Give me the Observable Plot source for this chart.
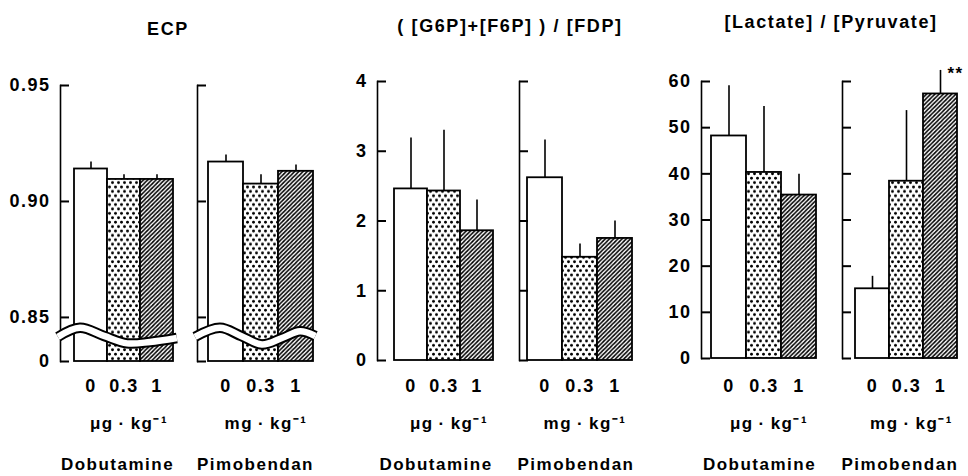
<!DOCTYPE html>
<html><head><meta charset="utf-8">
<script src="https://cdn.jsdelivr.net/npm/d3@7"></script>
<script src="https://cdn.jsdelivr.net/npm/@observablehq/plot@0.6"></script>
<style>
body{margin:0;background:#fff}
#chart{position:relative;width:968px;height:476px;overflow:hidden;font-family:"Liberation Sans",Arial,sans-serif;font-weight:bold;color:#000}
#chart svg.layer{position:absolute;left:0;top:0}
.title{position:absolute;font-size:18px;letter-spacing:1.6px;transform:translate(-50%,-50%);white-space:nowrap;line-height:1}
</style></head>
<body>
<div id="chart">
<svg width="0" height="0" style="position:absolute">
<defs>
<pattern id="dots" width="6" height="8.8" patternUnits="userSpaceOnUse"><rect width="6" height="8.8" fill="#fff"/><circle cx="1.5" cy="2.2" r="1.45" fill="#000"/><circle cx="4.5" cy="6.6" r="1.45" fill="#000"/></pattern>
<pattern id="hatch" width="4.2" height="4.2" patternUnits="userSpaceOnUse"><rect width="4.2" height="4.2" fill="#fff"/><path d="M-1,1 L1,-1 M0,4.2 L4.2,0 M3.2,5.2 L5.2,3.2" stroke="#000" stroke-width="1.6"/></pattern>
</defs></svg>
</div>
<script>
// ---------- data ----------
const doses = ["0", "0.3", "1"];
const drugs = ["Dobutamine", "Pimobendan"];
const units = ["μg\u2009·\u2009kg⁻¹", "mg\u2009·\u2009kg⁻¹"];
const titles = ["ECP", "( [G6P]+[F6P] ) / [FDP]", "[Lactate] / [Pyruvate]"];
const doseFills = ["#fff", "url(#dots)", "url(#hatch)"];

const ecpTicks = [0.831, 0.85, 0.90, 0.95];
const ecpTickLabels = ["0", "0.85", "0.90", "0.95"];
const hexTicks = [0, 1, 2, 3, 4];
const hexTickLabels = ["0", "1", "2", "3", "4"];
const lacTicks = [0, 10, 20, 30, 40, 50, 60];
const lacTickLabels = ["0", "10", "20", "30", "40", "50", "60"];

const ecpDobMean = [0.914, 0.9095, 0.9095];
const ecpDobSE   = [0.003, 0.002, 0.002];
const ecpPimMean = [0.917, 0.9075, 0.913];
const ecpPimSE   = [0.003, 0.004, 0.0027];
const hexDobMean = [2.46, 2.43, 1.86];
const hexDobSE   = [0.73, 0.87, 0.44];
const hexPimMean = [2.62, 1.48, 1.75];
const hexPimSE   = [0.54, 0.19, 0.25];
const lacDobMean = [48.2, 40.3, 35.4];
const lacDobSE   = [10.9, 14.3, 4.5];
const lacPimMean = [15.1, 38.4, 57.3];
const lacPimSE   = [2.7, 15.3, 5.1];
const noSig = ["", "", ""];
const lacPimSig = ["", "", "**"];

// ---------- layout ----------
const W = 968, H = 476;
const doseY = 388, unitY = 423, drugY = 464, tickLen = 9;
const panels = [
  {title: titles[0], tx: 168, ty: 29, yDomain: [0.831, 0.95], yRange: [361, 85], ticks: ecpTicks, labels: ecpTickLabels, brk: true,
   subs: [{axis: 60, x0: 73, x1: 174, mean: ecpDobMean, se: ecpDobSE, sig: noSig},
          {axis: 197, x0: 207, x1: 313, mean: ecpPimMean, se: ecpPimSE, sig: noSig}]},
  {title: titles[1], tx: 510, ty: 26, yDomain: [0, 4], yRange: [360, 81], ticks: hexTicks, labels: hexTickLabels,
   subs: [{axis: 377, x0: 393, x1: 494, mean: hexDobMean, se: hexDobSE, sig: noSig},
          {axis: 519, x0: 527, x1: 632, mean: hexPimMean, se: hexPimSE, sig: noSig}]},
  {title: titles[2], tx: 831, ty: 22, yDomain: [0, 60], yRange: [358, 81], ticks: lacTicks, labels: lacTickLabels,
   subs: [{axis: 701, x0: 710, x1: 817, mean: lacDobMean, se: lacDobSE, sig: noSig},
          {axis: 842, x0: 854, x1: 957, mean: lacPimMean, se: lacPimSE, sig: lacPimSig}]}
];
// axis-break wave (decoration): fraction along sub-panel, value on y scale
const waves = [
  [[-0.018, 0.8414], [0.175, 0.8453], [0.386, 0.8418], [0.588, 0.8386], [0.789, 0.8392], [1.025, 0.8409]],
  [[-0.017, 0.8414], [0.198, 0.8453], [0.379, 0.8418], [0.560, 0.8381], [0.733, 0.8409], [0.888, 0.8438], [1.02, 0.8418]]
];

const chart = document.getElementById("chart");

panels.forEach((p) => {
  const t = document.createElement("div");
  t.className = "title";
  t.style.left = p.tx + "px";
  t.style.top = p.ty + "px";
  t.textContent = p.title;
  chart.appendChild(t);

  p.subs.forEach((s, j) => {
    const data = doses.map((d, i) => ({dose: d, mean: s.mean[i], se: s.se[i], fill: doseFills[i], sig: s.sig[i]}));
    const base = p.yDomain[0];
    const bottom = p.yRange[0];
    const plot = Plot.plot({
      width: W, height: H,
      marginLeft: s.axis, marginRight: W - s.x1,
      marginTop: p.yRange[1], marginBottom: H - bottom,
      x: {domain: doses, range: [s.x0, s.x1], padding: 0},
      y: {domain: p.yDomain, range: p.yRange},
      color: {type: "identity"},
      style: {background: "none", overflow: "visible", fontFamily: '"Liberation Sans", Arial, sans-serif',
              fontSize: "18px", fontWeight: "bold", letterSpacing: "1.5px", color: "#000"},
      marks: [
        Plot.barY(data, {x: "dose", y1: () => base, y2: "mean", fill: "fill", stroke: "#000", strokeWidth: 1.8}),
        Plot.ruleX(data, {x: "dose", y1: "mean", y2: d => d.mean + d.se, stroke: "#000", strokeWidth: 1.6}),
        Plot.frame({anchor: "left", stroke: "#000", strokeWidth: 1.6}),
        // inward tick marks
        Plot.tickY(p.ticks, {y: d => d, stroke: "#000", strokeWidth: 2, insetRight: (s.x1 - s.axis) - tickLen}),
        Plot.axisY({ticks: p.ticks, tickSize: 0, tickPadding: 10, label: null,
                    tickFormat: j === 0 ? (v => p.labels[p.ticks.indexOf(v)]) : (() => "")}),
        Plot.axisX({tickSize: 0, tickPadding: doseY - bottom - 9, label: null}),
        Plot.text([units[j]], {x: () => "0.3", text: d => d, frameAnchor: "bottom", dx: 5, dy: unitY - bottom, lineAnchor: "middle", fontSize: 17}),
        Plot.text([drugs[j]], {text: d => d, frameAnchor: "bottom", dy: drugY - bottom, lineAnchor: "middle", fontSize: 17}),
        Plot.text(data, {x: "dose", y: d => d.mean + d.se, text: "sig", textAnchor: "start", dx: 7, dy: 3, fontSize: 17})
      ]
    });
    plot.classList.add("layer");
    if (p.brk) {
      const ys = plot.scale("y");
      const pts = waves[j].map(([f, v]) => [s.axis + f * (s.x1 - s.axis), ys.apply(v)]);
      const path = d3.line().curve(d3.curveCatmullRom)(pts);
      const g = d3.select(plot).append("g");
      g.append("path").attr("d", path).attr("fill", "none").attr("stroke", "#000").attr("stroke-width", 10.5);
      g.append("path").attr("d", path).attr("fill", "none").attr("stroke", "#fff").attr("stroke-width", 6.5);
    }
    chart.appendChild(plot);
  });
});
</script>
</body></html>
